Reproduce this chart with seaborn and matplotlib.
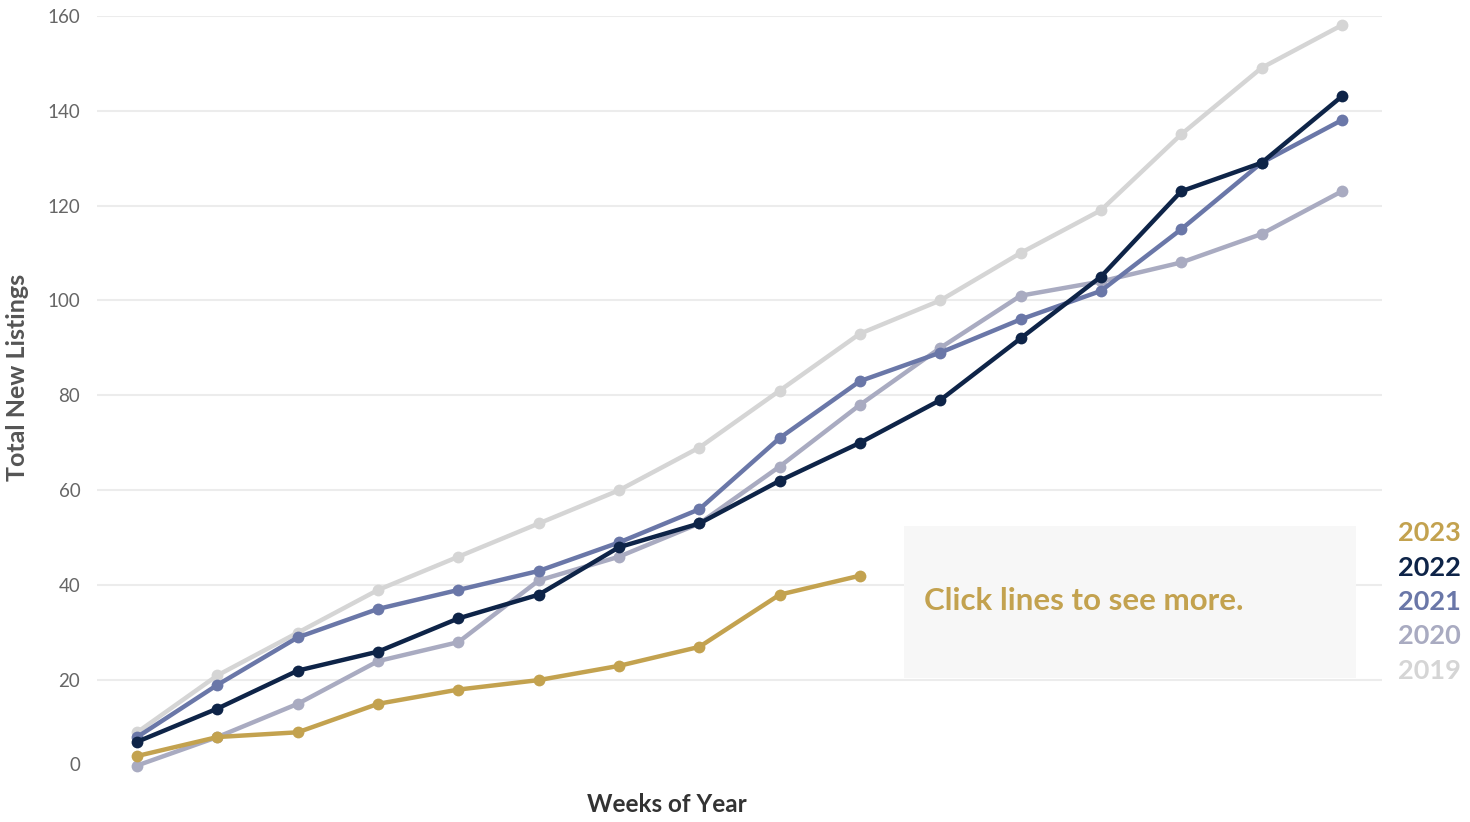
import matplotlib
matplotlib.use("Agg")
import matplotlib.pyplot as plt
import matplotlib.transforms as mtransforms
from matplotlib.patches import Rectangle
import pandas as pd
import seaborn as sns

# Cumulative new listings per week of the year
weeks = list(range(1, 17))
listings_2019 = [9, 21, 30, 39, 46, 53, 60, 69, 81, 93, 100, 110, 119, 135, 149, 158]
listings_2020 = [2, 8, 15, 24, 28, 41, 46, 53, 65, 78, 90, 101, 104, 108, 114, 123]
listings_2021 = [8, 19, 29, 35, 39, 43, 49, 56, 71, 83, 89, 96, 102, 115, 129, 138]
listings_2022 = [7, 14, 22, 26, 33, 38, 48, 53, 62, 70, 79, 92, 105, 123, 129, 143]
listings_2023 = [4, 8, 9, 15, 18, 20, 23, 27, 38, 42]

legend_years = ["2023", "2022", "2021", "2020", "2019"]
draw_order = ["2019", "2020", "2021", "2023", "2022"]
y_ticks = [0, 20, 40, 60, 80, 100, 120, 140, 160]

palette = {
    "2023": "#c3a24f",
    "2022": "#0e2448",
    "2021": "#6a77a8",
    "2020": "#a9abc1",
    "2019": "#d5d5d5",
}

series = {
    "2019": listings_2019,
    "2020": listings_2020,
    "2021": listings_2021,
    "2022": listings_2022,
    "2023": listings_2023,
}
frames = []
for yr, vals in series.items():
    frames.append(pd.DataFrame({"week": weeks[:len(vals)], "listings": vals, "year": yr}))
df = pd.concat(frames, ignore_index=True)

sns.set_style("white")
plt.rcParams["font.family"] = ["Lato", "DejaVu Sans"]

fig = plt.figure(figsize=(14.7, 8.22), dpi=100)
ax = fig.add_axes([97 / 1470, 1 - 775 / 822, (1382 - 97) / 1470, (775 - 15.7) / 822])

# light horizontal grid (no line at zero)
for v in y_ticks[1:]:
    ax.axhline(v, color="#ececec", lw=1.5, zorder=0)

for i, yr in enumerate(draw_order):
    sub = df[df["year"] == yr]
    sns.lineplot(data=sub, x="week", y="listings", color=palette[yr], lw=3.2,
                 marker="o", markersize=8.5, markeredgewidth=0, ax=ax,
                 zorder=3 + i, legend=False)

ax.set_xlim(0.5, 16.5)
ax.set_ylim(0, 160)
ax.set_xticks([])
ax.set_yticks(y_ticks)
ax.set_yticklabels([str(v) for v in y_ticks], fontsize=13.5, color="#666666")
ax.tick_params(axis="y", length=0, pad=12)
for sp in ax.spines.values():
    sp.set_visible(False)

# keep the bottom tick label inside the plotting band
for lab in ax.get_yticklabels():
    if lab.get_text() == "0":
        lab.set_transform(lab.get_transform() +
                          mtransforms.ScaledTranslation(0, 11 / 100, fig.dpi_scale_trans))

ax.set_xlabel("Weeks of Year", fontsize=17.5, fontweight="bold", color="#333333")
ax.xaxis.label.set_va("center")
ax.xaxis.set_label_coords(0.4436, -0.0395)
ax.set_ylabel("Total New Listings", fontsize=18, fontweight="bold", color="#555555")
ax.yaxis.label.set_va("center")
ax.yaxis.set_label_coords(-0.0615, 0.523)

# hint panel
ax.add_patch(Rectangle((0.628, 0.1277), 0.352, 0.2002, transform=ax.transAxes,
                       facecolor="#f7f7f7", edgecolor="none", zorder=1.5))
ax.text(0.6435, 0.2297, "Click lines to see more.", transform=ax.transAxes,
        fontsize=22.5, fontweight="bold", color=palette["2023"], va="center", ha="left")

# year legend on the right
legend_y = [533, 568, 602, 636, 671]
for yr, py in zip(legend_years, legend_y):
    fig.text(1398 / 1470, 1 - py / 822, yr, fontsize=19.5, fontweight="bold",
             color=palette[yr], va="center", ha="left")

fig.savefig("out.png", dpi=100)
